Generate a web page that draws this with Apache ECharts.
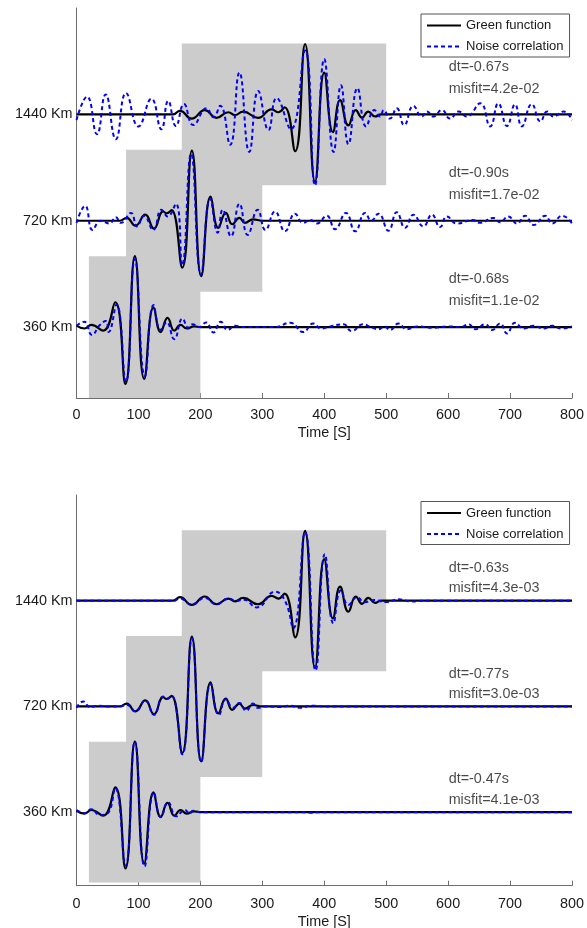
<!DOCTYPE html>
<html>
<head>
<meta charset="utf-8">
<script src="https://cdn.jsdelivr.net/npm/echarts@6/dist/echarts.min.js"></script>
<style>
  html, body { margin: 0; padding: 0; background: #ffffff; }
  #chart { width: 587px; height: 928px; }
</style>
</head>
<body>
<div id="chart"></div>
<script>
// Stations (bottom to top) and their vertical trace offsets
const stations = ['360 Km', '720 Km', '1440 Km'];
const offsets = [1.5, 3.0, 4.5];

// Time windows used for the comparison [s]
const winStart = [20, 80, 170];
const winEnd = [200, 300, 500];

// Green function, normalized amplitude vs time [s] (same in both panels)
const green360 = [[0,0.02],[13,-0.02],[24,0.03],[43,-0.05],[62.5,0.35],[79,-0.80],[94.2,1.0],[109.3,-0.73],[124.5,0.28],[136,-0.07],[147,0.13],[158,-0.05],[168,0.03],[178,-0.02],[190,0.01],[200,0],[210,0],[800,0]];
const green720 = [[0,0],[60,0],[70,0],[81,0.04],[95,-0.07],[111,0.085],[125,-0.11],[140,0.13],[145.5,0.105],[153.5,0.15],[170.7,-0.66],[186.3,0.99],[201.4,-0.78],[216.6,0.34],[229,-0.10],[241,0.11],[251.5,-0.05],[263,0.04],[272,-0.03],[285,0.02],[300,0],[310,0],[800,0]];
const green1440 = [[0,0],[145,0],[156,0],[167,0.05],[186,-0.06],[207,0.06],[226,-0.05],[245,0.03],[256,-0.01],[269,0.04],[293,-0.05],[315,0.07],[326,0.03],[336,0.10],[353,-0.52],[369,0.99],[385,-0.95],[400,0.59],[414,-0.25],[425.5,0.20],[439,-0.155],[451,0.06],[461,-0.045],[471,0.04],[482,-0.03],[492,0],[505,0],[800,0]];

// Noise correlation, upper panel
const noiseA360 = [[0,0.02],[12.5,0.075],[25,-0.11],[37.7,0.03],[47.4,0.085],[52,-0.07],[64.6,0.32],[79.7,-0.775],[94.2,0.96],[110.4,-0.69],[124.5,0.31],[135.8,-0.04],[145.5,0.07],[157.7,-0.17],[171.3,0.12],[180.4,-0.01],[187.5,0.04],[198,0],[209,0.066],[221,-0.075],[233,0.075],[244,-0.04],[256,0.02],[270,0],[300,0],[320,0],[345,0.06],[366,-0.07],[382,0.05],[395,-0.02],[410,0.01],[431,0.04],[444,-0.056],[463,0.04],[475,0],[487.5,-0.03],[497,0.01],[506,-0.04],[520,0.05],[533,-0.03],[550,0.01],[575,-0.01],[600,0.01],[620,0],[633,0.04],[644,-0.03],[660,0.04],[671,-0.04],[684,0.05],[695,-0.09],[708,0.06],[722,-0.02],[738,0.02],[754,-0.02],[768,0.02],[782,-0.02],[800,0.01]];
const noiseA720 = [[0,-0.03],[14,0.21],[26,-0.13],[39,0],[53,-0.04],[63.5,0.05],[71.6,-0.03],[88,0.11],[97.5,-0.08],[109,0.07],[124,-0.13],[137,0.155],[147,0.06],[160.5,0.24],[170.5,-0.63],[185,0.945],[201,-0.76],[216,0.31],[228,-0.17],[236,0.155],[249.4,-0.22],[263,0.24],[276.4,-0.20],[292.5,0.155],[305,-0.13],[320.5,0.13],[336.7,-0.15],[352.8,0.10],[366,-0.03],[378,0.01],[388,-0.04],[404,0.07],[417.5,-0.12],[435,0.11],[450,-0.15],[466,0.11],[476,0],[487.5,0.10],[503.6,-0.14],[517,0.12],[530.6,-0.10],[544,0.085],[560,-0.08],[573.7,0.085],[587,-0.09],[598,0.06],[614,-0.04],[640,0.01],[651,-0.03],[673,0.04],[684,-0.02],[697,0.06],[711,-0.04],[724.6,0.07],[738,-0.06],[757,0.07],[768,-0.04],[784,0.07],[800,-0.04]];
const noiseA1440 = [[0,-0.08],[17,0.25],[33,-0.28],[47,0.28],[63.5,-0.35],[80,0.30],[100,-0.17],[121,0.22],[137,-0.21],[148,0.19],[160.5,-0.165],[173.5,0.145],[188.5,-0.15],[210,0.085],[221,-0.04],[232,0.12],[248,-0.43],[263,0.59],[279,-0.53],[293.5,0.33],[310,-0.22],[323,0.23],[346,-0.21],[369,0.90],[385,-1.0],[400,0.78],[415,-0.53],[427,0.41],[439,-0.42],[453.6,0.37],[467.6,-0.17],[481,0.06],[490,-0.03],[496,0.06],[506,-0.06],[517,0.085],[529,-0.15],[544,0.12],[557.6,-0.03],[566,0.04],[576,-0.03],[590,0.06],[603,-0.06],[617,0.04],[630,-0.03],[652,0.155],[668,-0.17],[681,0.155],[695,-0.165],[708,0.14],[719,-0.17],[735,0.145],[749,-0.10],[760,0.04],[770,-0.03],[786.5,0.04],[800,-0.08]];

// Noise correlation, lower panel
const noiseB360 = [[0,0.03],[13,-0.015],[24,0.04],[37.7,-0.04],[50,-0.02],[62.5,0.34],[79.2,-0.76],[94.2,1.0],[110,-0.77],[124.9,0.28],[136.2,-0.07],[148,0.14],[161,-0.06],[175,0.03],[183,-0.02],[188,0.02],[200,0],[210,0],[370,0],[380,-0.01],[390,0],[800,0]];
const noiseB720 = [[0,-0.02],[11,0.07],[22,-0.01],[35,0.01],[50,0],[70,0],[81,0.025],[95,-0.07],[111,0.085],[125,-0.12],[140,0.14],[146,0.11],[153.5,0.15],[170.7,-0.68],[186.3,0.96],[201.4,-0.79],[216.6,0.32],[230,-0.12],[241,0.10],[253,-0.02],[263,0.05],[274,-0.06],[285,0.04],[293,-0.02],[305,0],[330,-0.01],[345,0.01],[360,-0.02],[380,0.01],[400,0],[410,0],[800,0]];
const noiseB1440 = [[0,0],[145,0],[156,0],[167,0.03],[186,-0.05],[207,0.04],[226,-0.05],[245,0.03],[258,0],[270,0.015],[291,-0.095],[320.5,0.127],[337,-0.01],[350,-0.39],[369,0.97],[386,-0.99],[401,0.66],[414.7,-0.32],[427,0.15],[439,-0.06],[453,0.05],[465,-0.02],[480,0.01],[500,-0.02],[520,0.02],[540,-0.01],[560,0],[570,0],[800,0]];

// Arrival-time shift and misfit per station (360, 720, 1440)
const dtA = ['dt=-0.68s', 'dt=-0.90s', 'dt=-0.67s'];
const misfitA = ['misfit=1.1e-02', 'misfit=1.7e-02', 'misfit=4.2e-02'];
const dtB = ['dt=-0.47s', 'dt=-0.77s', 'dt=-0.63s'];
const misfitB = ['misfit=4.1e-03', 'misfit=3.0e-03', 'misfit=4.3e-03'];

const FONT = '"Liberation Sans", Arial, Helvetica, sans-serif';
const TEXT = '#1a1a1a';
const AXIS = '#6e6e6e';
const AX_FONT = 14.4;

const greens = [green360, green720, green1440];
const noises = [[noiseA360, noiseA720, noiseA1440], [noiseB360, noiseB720, noiseB1440]];
const dts = [dtA, dtB];
const misfits = [misfitA, misfitB];
// label heights above each trace baseline, per panel
const dtLift = [0.671, 0.465];
const misfitLift = [0.364, 0.176];
// lower limit of each panel's vertical axis
const yMin = [0.5, 0.456];
// spacing of tick labels and axis title below each panel
const labelMargin = [10, 11];
const titleGap = [28, 29.5];

const shift = (data, off) => data.map(p => [p[0], p[1] + off]);

// fixed plot boxes; keep ECharts from shrinking them to fit the axis titles
const grids = [
  { left: 76.5, top: 8, width: 495.5, height: 390, outerBoundsMode: 'none', containLabel: false },
  { left: 76.5, top: 495, width: 495.5, height: 390.7, outerBoundsMode: 'none', containLabel: false }
];

const xAxes = grids.map((g, i) => ({
  type: 'value', gridIndex: i, min: 0, max: 800, interval: 100,
  name: 'Time [S]', nameLocation: 'middle', nameGap: titleGap[i],
  nameTextStyle: { fontFamily: FONT, fontSize: AX_FONT, color: TEXT },
  axisLine: { show: true, lineStyle: { color: AXIS, width: 1 } },
  axisTick: { show: true, inside: true, length: 5, lineStyle: { color: AXIS } },
  axisLabel: { margin: labelMargin[i], fontFamily: FONT, fontSize: AX_FONT, color: TEXT },
  splitLine: { show: false }
}));

const yAxes = grids.map((g, i) => ({
  type: 'value', gridIndex: i, min: yMin[i], max: 6,
  axisLine: { show: true, lineStyle: { color: AXIS, width: 1 } },
  axisTick: { show: false },
  axisLabel: {
    margin: 4, fontFamily: FONT, fontSize: AX_FONT, color: TEXT,
    customValues: offsets,
    formatter: v => {
      const k = offsets.findIndex(o => Math.abs(o - v) < 1e-6);
      return k >= 0 ? stations[k] : '';
    }
  },
  splitLine: { show: false }
}));

const series = [];
for (let p = 0; p < 2; p++) {
  // shaded comparison windows
  series.push({
    type: 'line', xAxisIndex: p, yAxisIndex: p, data: [], silent: true, z: 1,
    markArea: {
      silent: true,
      itemStyle: { color: '#cccccc', borderWidth: 0 },
      data: offsets.map((o, i) => [
        { xAxis: winStart[i], yAxis: o - 1 },
        { xAxis: winEnd[i], yAxis: o + 1 }
      ])
    }
  });
  for (let i = 0; i < 3; i++) {
    series.push({
      name: 'Green function', type: 'line', xAxisIndex: p, yAxisIndex: p,
      data: shift(greens[i], offsets[i]), smooth: 0.5, symbol: 'none', silent: true, z: 2,
      lineStyle: { color: '#000000', width: 2.2 }, itemStyle: { color: '#000000' }
    });
  }
  for (let i = 0; i < 3; i++) {
    series.push({
      name: 'Noise correlation', type: 'line', xAxisIndex: p, yAxisIndex: p,
      data: shift(noises[p][i], offsets[i]), smooth: 0.5, symbol: 'none', silent: true, z: 3,
      lineStyle: { color: '#0000ff', width: 2, type: [4, 3] }, itemStyle: { color: '#0000ff' }
    });
  }
  // dt / misfit annotations
  const notes = [];
  for (let i = 0; i < 3; i++) {
    notes.push({ value: [600, offsets[i] + dtLift[p]], name: dts[p][i] });
    notes.push({ value: [600, offsets[i] + misfitLift[p]], name: misfits[p][i] });
  }
  series.push({
    type: 'scatter', xAxisIndex: p, yAxisIndex: p, data: notes, silent: true, z: 4,
    symbolSize: 1, itemStyle: { color: 'rgba(0,0,0,0)' },
    label: {
      show: true, position: 'right', distance: 0, formatter: '{b}',
      fontFamily: FONT, fontSize: AX_FONT, color: TEXT
    }
  });
}

const legends = [14, 501.5].map(top => ({
  data: ['Green function', 'Noise correlation'],
  orient: 'vertical', left: 421, top: top,
  itemWidth: 34, itemHeight: 14, itemGap: 8,
  padding: [5, 6, 4, 5],
  borderColor: '#555555', borderWidth: 1, backgroundColor: '#ffffff',
  selectedMode: false,
  itemStyle: { opacity: 0 },
  textStyle: { fontFamily: FONT, fontSize: 13, color: TEXT }
}));

const chart = echarts.init(document.getElementById('chart'), null, { renderer: 'canvas' });
chart.setOption({
  animation: false,
  backgroundColor: '#ffffff',
  grid: grids,
  xAxis: xAxes,
  yAxis: yAxes,
  legend: legends,
  series: series
});
</script>
</body>
</html>
